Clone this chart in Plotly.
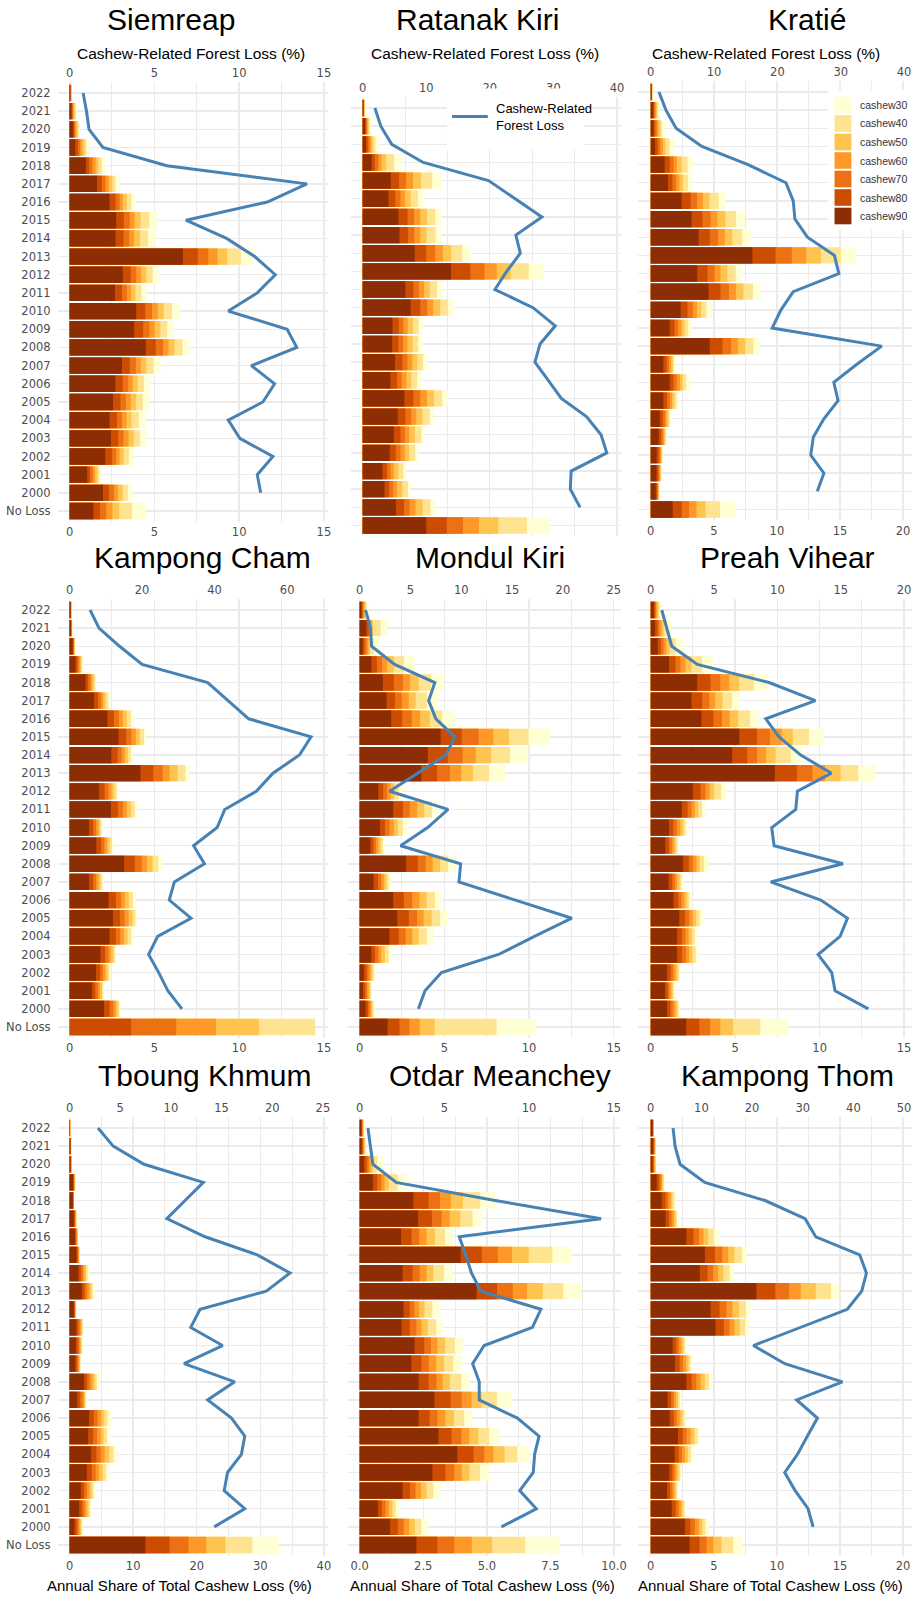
import plotly.graph_objects as go

W, H = 923, 1597

# ---------------- categories (top to bottom) ----------------
YEARS = [str(y) for y in range(2022, 1999, -1)]
CATS = YEARS + ["No Loss"]
SERIES = ["cashew30", "cashew40", "cashew50", "cashew60", "cashew70", "cashew80", "cashew90"]
COLORS = ["#FFFFD4", "#FEE391", "#FEC44F", "#FE9929", "#EC7014", "#CC4C02", "#8C2D04"]
LINE_COLOR = "#4682B4"

# ---------------- Siemreap ----------------
SIEMREAP_C90 = [0.04,0.1,0.2,0.33,0.96,1.62,2.36,2.75,2.71,6.68,3.14,2.68,3.93,3.81,4.49,3.09,2.7,2.56,2.36,2.44,2.11,1.04,1.97,1.41]
SIEMREAP_C80 = [0.06,0.15,0.27,0.5,1.15,1.91,2.71,3.2,3.18,7.56,3.61,3.09,4.47,4.34,5.08,3.55,3.14,3.0,2.79,2.87,2.5,1.21,2.32,1.8]
SIEMREAP_C70 = [0.08,0.2,0.33,0.62,1.35,2.13,2.95,3.55,3.52,8.18,3.93,3.38,4.86,4.71,5.51,3.91,3.46,3.32,3.09,3.18,2.75,1.37,2.62,2.17]
SIEMREAP_C60 = [0.1,0.25,0.4,0.74,1.54,2.32,3.14,3.83,3.81,8.73,4.22,3.63,5.2,5.02,5.84,4.2,3.73,3.61,3.36,3.48,2.95,1.5,2.85,2.52]
SIEMREAP_C50 = [0.11,0.3,0.47,0.88,1.7,2.52,3.38,4.18,4.16,9.3,4.53,3.89,5.55,5.35,6.19,4.53,4.02,3.93,3.65,3.79,3.2,1.64,3.13,2.93]
SIEMREAP_C40 = [0.13,0.37,0.55,1.0,1.9,2.71,3.65,4.71,4.63,10.1,4.9,4.24,6.04,5.76,6.66,4.96,4.39,4.32,4.08,4.16,3.5,1.76,3.44,3.69]
SIEMREAP_C30 = [0.14,0.43,0.62,1.19,2.17,2.95,3.89,5.18,5.06,10.88,5.25,4.53,6.5,6.13,7.07,5.37,4.77,4.73,4.49,4.53,3.79,1.9,3.73,4.47]
SIEMREAP_LINE = [0.8,1.0,1.15,1.97,5.74,14.0,11.66,6.86,9.26,10.92,12.13,11.07,9.36,12.83,13.4,10.72,12.09,11.4,9.36,10.04,11.99,11.07,11.27]

# ---------------- Ratanak Kiri ----------------
RATANAK_C90 = [0.04,0.14,0.2,0.53,1.66,1.52,2.11,2.17,3.07,5.21,2.52,2.83,1.76,1.74,1.91,1.64,2.46,2.07,1.84,1.6,1.17,1.29,1.97,3.75]
RATANAK_C80 = [0.06,0.2,0.3,0.72,2.15,1.93,2.64,2.68,3.75,6.35,2.99,3.4,2.13,2.11,2.34,2.03,2.99,2.52,2.23,1.95,1.43,1.56,2.44,4.96]
RATANAK_C70 = [0.08,0.26,0.4,0.92,2.56,2.23,3.03,3.05,4.28,7.19,3.32,3.81,2.4,2.38,2.64,2.3,3.4,2.87,2.5,2.23,1.64,1.8,2.77,5.92]
RATANAK_C60 = [0.1,0.3,0.5,1.11,2.97,2.5,3.4,3.4,4.73,7.91,3.63,4.16,2.66,2.64,2.93,2.58,3.79,3.16,2.75,2.48,1.84,2.03,3.11,6.86]
RATANAK_C50 = [0.12,0.36,0.6,1.39,3.44,2.83,3.79,3.77,5.21,8.73,3.96,4.57,2.97,2.95,3.22,2.87,4.2,3.52,3.09,2.75,2.11,2.34,3.54,8.0]
RATANAK_C40 = [0.14,0.42,0.75,1.86,4.1,3.26,4.28,4.3,5.88,9.8,4.39,5.04,3.3,3.28,3.57,3.22,4.69,3.95,3.46,3.11,2.4,2.68,4.0,9.69]
RATANAK_C30 = [0.16,0.49,0.94,2.29,4.65,3.57,4.67,4.69,6.35,10.66,4.73,5.41,3.55,3.53,3.81,3.44,5.02,4.16,3.63,3.28,2.56,2.83,4.26,11.04]
RATANAK_LINE = [1.93,2.86,4.58,9.53,19.8,23.96,28.2,24.1,24.8,22.66,20.8,26.8,30.3,27.9,27.1,29.2,31.25,35.2,37.5,38.4,32.8,32.66,34.2]

# ---------------- Kratié ----------------
KRATIE_C90 = [0.06,0.18,0.21,0.34,1.1,1.37,2.45,3.24,3.79,8.05,3.68,4.58,2.37,1.5,4.68,1.0,1.5,1.0,0.71,0.63,0.47,0.45,0.39,1.74]
KRATIE_C80 = [0.08,0.26,0.34,0.55,1.5,1.71,3.16,4.1,4.68,9.89,4.5,5.53,2.92,1.89,5.68,1.26,1.79,1.29,0.95,0.82,0.63,0.58,0.5,2.45]
KRATIE_C70 = [0.1,0.34,0.47,0.74,1.82,2.0,3.66,4.74,5.34,11.18,5.05,6.21,3.32,2.18,6.37,1.45,2.05,1.5,1.13,0.95,0.74,0.66,0.55,3.03]
KRATIE_C60 = [0.11,0.42,0.6,0.97,2.08,2.26,4.13,5.29,5.87,12.32,5.53,6.76,3.66,2.45,6.92,1.61,2.32,1.68,1.26,1.05,0.82,0.74,0.61,3.63]
KRATIE_C50 = [0.12,0.5,0.75,1.18,2.45,2.55,4.66,5.92,6.47,13.5,6.08,7.34,4.0,2.68,7.5,1.74,2.53,1.87,1.39,1.13,0.87,0.79,0.63,4.34]
KRATIE_C40 = [0.14,0.6,0.9,1.5,2.92,2.95,5.39,6.76,7.26,15.08,6.74,8.1,4.42,2.97,8.13,1.84,2.79,2.05,1.5,1.21,0.92,0.84,0.66,5.5]
KRATIE_C30 = [0.16,0.71,1.13,1.84,3.37,3.29,5.92,7.45,7.92,16.24,7.24,8.71,4.82,3.21,8.63,1.92,3.03,2.18,1.58,1.26,0.97,0.87,0.68,6.68]
KRATIE_LINE = [1.3,2.4,4.0,8.07,15.36,21.35,22.5,22.76,24.74,29.0,29.7,22.5,20.57,19.17,36.46,32.55,28.9,29.58,27.34,25.68,25.26,27.34,26.3]

# ---------------- Kampong Cham ----------------
KCHAM_C90 = [0.06,0.08,0.18,0.35,0.94,1.45,2.23,2.89,2.46,4.18,1.74,2.44,1.15,1.58,3.22,1.15,2.3,2.56,2.36,1.82,1.56,1.33,2.03,0]
KCHAM_C80 = [0.08,0.1,0.22,0.45,1.09,1.68,2.62,3.34,2.83,4.94,2.07,2.85,1.39,1.86,3.85,1.39,2.73,2.97,2.73,2.09,1.8,1.52,2.36,3.63]
KCHAM_C70 = [0.09,0.12,0.26,0.55,1.23,1.86,2.91,3.65,3.07,5.49,2.3,3.14,1.56,2.05,4.26,1.56,3.03,3.24,2.99,2.29,1.97,1.68,2.58,6.29]
KCHAM_C60 = [0.1,0.13,0.28,0.63,1.33,1.99,3.14,3.91,3.26,5.9,2.48,3.38,1.7,2.21,4.57,1.7,3.26,3.48,3.2,2.44,2.11,1.8,2.73,8.63]
KCHAM_C50 = [0.11,0.15,0.3,0.68,1.43,2.13,3.38,4.14,3.44,6.37,2.64,3.61,1.8,2.36,4.9,1.82,3.5,3.71,3.42,2.58,2.25,1.91,2.85,11.17]
KCHAM_C40 = [0.12,0.16,0.32,0.74,1.52,2.29,3.61,4.39,3.61,6.84,2.79,3.85,1.88,2.5,5.23,1.93,3.73,3.89,3.63,2.68,2.36,1.99,2.95,14.49]
KCHAM_C30 = [0.14,0.18,0.34,0.8,1.58,2.4,3.79,4.49,3.71,7.11,2.85,3.98,1.91,2.58,5.43,2.03,3.91,4.0,3.79,2.73,2.44,2.03,3.01,14.49]
KCHAM_LINE = [5.66,8.13,13.8,20.0,38.1,43.7,49.4,66.6,63.4,56.1,51.5,42.8,40.7,34.2,37.2,28.9,27.5,33.5,24.3,21.8,24.6,27.1,31.0]

# ---------------- Mondul Kiri ----------------
MONDUL_C90 = [0.1,0.39,0.18,0.69,1.37,1.59,1.86,4.78,4.02,3.63,1.1,1.98,1.2,0.63,2.75,0.82,1.98,2.22,1.76,0.69,0.25,0.2,0.35,1.65]
MONDUL_C80 = [0.16,0.53,0.29,1.02,2.02,2.08,2.51,6.02,5.2,4.57,1.39,2.55,1.49,0.8,3.43,1.08,2.61,2.9,2.31,0.9,0.41,0.33,0.49,2.35]
MONDUL_C70 = [0.22,0.63,0.41,1.33,2.55,2.49,3.08,7.02,6.08,5.33,1.63,2.96,1.76,0.96,3.9,1.27,3.1,3.39,2.71,1.1,0.53,0.43,0.59,2.94]
MONDUL_C60 = [0.27,0.71,0.51,1.63,2.98,2.9,3.57,7.9,6.86,6.0,1.84,3.39,2.02,1.1,4.31,1.43,3.53,3.78,3.1,1.27,0.65,0.53,0.67,3.55]
MONDUL_C50 = [0.35,0.78,0.61,2.02,3.49,3.31,4.14,8.82,7.76,6.69,2.04,3.82,2.25,1.24,4.75,1.57,3.96,4.25,3.49,1.49,0.75,0.61,0.75,4.43]
MONDUL_C40 = [0.41,1.24,0.84,2.61,4.22,3.98,4.86,9.98,8.88,7.65,2.31,4.27,2.55,1.37,5.22,1.71,4.45,4.75,3.96,1.71,0.84,0.67,0.82,8.08]
MONDUL_C30 = [0.53,1.61,1.2,3.24,4.92,4.57,5.59,11.24,9.96,8.59,2.55,4.65,2.8,1.49,5.63,1.84,4.86,5.16,4.35,1.9,0.94,0.73,0.88,10.41]
MONDUL_LINE = [0.58,1.07,1.17,3.44,7.4,6.79,7.5,9.38,8.47,5.71,2.95,8.7,6.69,4.03,9.94,9.77,15.3,20.88,17.2,13.67,8.05,6.43,5.78]

# ---------------- Preah Vihear ----------------
PREAH_C90 = [0.18,0.25,0.41,1.08,2.75,2.41,3.0,5.24,4.82,7.35,2.49,1.84,1.08,0.86,1.92,1.06,1.35,1.69,1.55,1.55,0.96,0.84,0.96,2.1]
PREAH_C80 = [0.25,0.39,0.59,1.47,3.53,3.04,3.71,6.29,5.71,8.65,2.94,2.18,1.33,1.08,2.25,1.27,1.63,2.02,1.84,1.84,1.18,1.0,1.16,2.88]
PREAH_C70 = [0.31,0.51,0.76,1.76,4.12,3.47,4.22,7.06,6.29,9.57,3.24,2.41,1.55,1.24,2.49,1.43,1.82,2.27,2.06,2.08,1.33,1.1,1.31,3.51]
PREAH_C60 = [0.37,0.63,0.92,2.06,4.65,3.82,4.67,7.75,6.82,10.33,3.49,2.61,1.75,1.37,2.71,1.57,2.0,2.49,2.25,2.27,1.47,1.2,1.45,4.12]
PREAH_C50 = [0.45,0.76,1.12,2.41,5.24,4.25,5.18,8.41,7.39,11.24,3.76,2.82,1.92,1.49,2.9,1.71,2.16,2.69,2.43,2.47,1.59,1.3,1.57,4.88]
PREAH_C40 = [0.53,0.94,1.47,3.04,6.12,4.82,5.88,9.37,8.29,12.29,4.16,3.04,2.06,1.59,3.16,1.82,2.29,2.9,2.61,2.67,1.69,1.37,1.65,6.49]
PREAH_C30 = [0.69,1.2,1.92,3.67,6.9,5.29,6.47,10.25,8.98,13.29,4.47,3.27,2.22,1.65,3.43,1.92,2.41,3.08,2.76,2.82,1.76,1.43,1.71,8.14]
PREAH_LINE = [0.87,1.26,1.66,3.68,9.34,13.0,9.08,10.13,11.84,14.26,11.58,11.45,9.55,9.74,15.18,9.47,13.42,15.53,14.95,13.21,14.29,14.55,17.18]

# ---------------- Tboung Khmum ----------------
TBOUNG_C90 = [0.05,0.12,0.15,0.55,0.52,0.68,0.83,1.09,1.41,1.93,0.68,1.04,0.99,0.89,2.29,1.2,3.07,2.92,3.39,2.71,1.77,1.51,0.78,11.93]
TBOUNG_C80 = [0.08,0.16,0.2,0.65,0.58,0.8,0.98,1.25,1.77,2.34,0.78,1.35,1.3,1.15,2.76,1.67,3.8,3.7,4.22,3.49,2.29,1.98,1.15,15.73]
TBOUNG_C70 = [0.1,0.2,0.25,0.73,0.62,0.9,1.1,1.37,2.08,2.71,0.86,1.6,1.52,1.35,3.18,2.03,4.43,4.32,4.9,4.11,2.71,2.34,1.41,18.7]
TBOUNG_C60 = [0.12,0.23,0.3,0.8,0.66,0.98,1.2,1.46,2.34,3.07,0.93,1.8,1.7,1.5,3.59,2.29,5.0,4.9,5.52,4.64,3.13,2.66,1.61,21.51]
TBOUNG_C50 = [0.14,0.26,0.34,0.86,0.69,1.05,1.27,1.53,2.6,3.39,0.99,1.96,1.85,1.63,3.96,2.45,5.47,5.36,6.25,5.21,3.49,2.97,1.82,24.53]
TBOUNG_C40 = [0.17,0.29,0.38,0.9,0.71,1.1,1.32,1.58,2.86,3.65,1.04,2.08,1.97,1.73,4.32,2.55,5.99,5.89,6.93,5.78,3.8,3.23,1.98,28.75]
TBOUNG_C30 = [0.2,0.31,0.42,0.94,0.73,1.15,1.35,1.61,3.13,3.96,1.09,2.19,2.08,1.82,4.64,2.66,6.56,6.35,7.6,6.35,4.06,3.49,2.08,32.92]
TBOUNG_LINE = [2.81,4.31,7.35,13.2,11.4,9.6,13.37,18.53,21.76,19.41,12.88,11.96,15.1,11.3,16.3,13.63,15.98,17.29,16.96,15.59,15.26,17.29,14.28]

# ---------------- Otdar Meanchey ----------------
OTDAR_C90 = [0.07,0.08,0.17,0.52,2.11,2.3,1.63,3.97,1.69,4.6,1.73,1.65,2.16,2.03,2.32,2.94,2.32,3.1,3.84,2.86,1.69,0.72,1.2,2.23]
OTDAR_C80 = [0.09,0.11,0.27,0.69,2.71,2.84,2.04,4.8,2.08,5.4,1.97,1.97,2.54,2.43,2.71,3.58,2.75,3.61,4.48,3.37,1.98,0.87,1.5,3.05]
OTDAR_C70 = [0.11,0.14,0.35,0.85,3.16,3.22,2.34,5.43,2.36,6.02,2.16,2.23,2.8,2.72,3.02,4.01,3.06,4.0,4.9,3.72,2.2,1.02,1.73,3.72]
OTDAR_C60 = [0.13,0.17,0.43,0.98,3.58,3.54,2.63,5.99,2.63,6.58,2.34,2.43,3.06,3.01,3.26,4.4,3.37,4.31,5.26,4.01,2.41,1.16,1.95,4.41]
OTDAR_C50 = [0.15,0.2,0.52,1.15,4.06,3.96,2.96,6.65,2.9,7.2,2.55,2.68,3.36,3.32,3.55,4.79,3.71,4.67,5.7,4.32,2.63,1.29,2.17,5.21]
OTDAR_C40 = [0.17,0.23,0.69,1.5,4.74,4.44,3.36,7.58,3.31,8.01,2.86,3.01,3.75,3.68,4.0,5.4,4.11,5.09,6.2,4.73,2.9,1.42,2.43,6.51]
OTDAR_C30 = [0.2,0.26,0.94,1.89,5.33,4.8,3.65,8.33,3.65,8.72,3.14,3.27,4.1,4.02,4.35,5.95,4.44,5.47,6.65,5.08,3.18,1.55,2.7,7.88]
OTDAR_LINE = [0.49,0.65,0.78,2.16,8.0,14.25,5.88,6.27,6.6,7.16,10.7,10.2,7.35,6.67,7.06,7.06,9.31,10.59,10.33,10.25,9.45,10.43,8.37]

# ---------------- Kampong Thom ----------------
KTHOM_C90 = [0.16,0.18,0.13,0.47,0.87,1.18,2.82,4.29,3.89,8.37,4.74,5.13,1.74,1.92,2.82,1.34,1.5,2.16,1.89,1.47,1.29,1.66,2.71,3.08]
KTHOM_C80 = [0.18,0.24,0.2,0.66,1.18,1.45,3.39,5.08,4.5,9.87,5.45,5.79,2.03,2.29,3.24,1.61,1.82,2.53,2.21,1.71,1.53,1.97,3.13,3.87]
KTHOM_C70 = [0.2,0.29,0.26,0.79,1.39,1.66,3.82,5.66,4.95,10.97,6.0,6.24,2.24,2.55,3.61,1.82,2.05,2.84,2.47,1.89,1.71,2.21,3.5,4.42]
KTHOM_C60 = [0.21,0.33,0.32,0.89,1.58,1.84,4.18,6.13,5.34,11.89,6.47,6.63,2.42,2.79,3.95,2.0,2.29,3.16,2.71,2.05,1.87,2.39,3.82,4.97]
KTHOM_C50 = [0.22,0.37,0.37,0.97,1.71,1.97,4.55,6.63,5.76,13.08,7.0,7.05,2.58,3.0,4.29,2.16,2.5,3.45,2.95,2.21,2.0,2.55,4.08,5.61]
KTHOM_C40 = [0.24,0.41,0.42,1.05,1.87,2.08,5.03,7.24,6.26,14.29,7.55,7.5,2.71,3.16,4.63,2.29,2.68,3.71,3.18,2.34,2.11,2.68,4.34,6.53]
KTHOM_C30 = [0.26,0.45,0.47,1.13,2.03,2.18,5.39,7.63,6.61,14.92,7.89,7.79,2.82,3.29,4.87,2.39,2.82,3.89,3.39,2.45,2.18,2.79,4.61,7.29]
KTHOM_LINE = [4.41,4.8,5.79,10.66,22.57,30.46,32.57,41.25,42.57,41.64,38.8,29.5,20.26,26.45,37.83,28.8,32.9,30.9,28.95,26.45,28.5,31.05,32.04]

# ---------------- tick labels ----------------
TICKS_0_15 = [0, 5, 10, 15]
TICKS_0_20 = [0, 5, 10, 15, 20]
TICKS_0_25 = [0, 5, 10, 15, 20, 25]
TICKS_0_40_BY10 = [0, 10, 20, 30, 40]
TICKS_0_50_BY10 = [0, 10, 20, 30, 40, 50]
TICKS_0_60_BY20 = [0, 20, 40, 60]
TICKS_OTDAR = [0, 2.5, 5, 7.5, 10]
TICKS_OTDAR_TEXT = ["0.0", "2.5", "5.0", "7.5", "10.0"]

TOP_TITLE = "Cashew-Related Forest Loss (%)"
BOTTOM_TITLE = "Annual Share of Total Cashew Loss (%)"
LINE_LEGEND = "Cashew-Related<br>Forest Loss"

# ---------------- panel layout (pixel geometry) ----------------
PANELS = [
    dict(title="Siemreap", bars=[SIEMREAP_C30, SIEMREAP_C40, SIEMREAP_C50, SIEMREAP_C60, SIEMREAP_C70, SIEMREAP_C80, SIEMREAP_C90], line=SIEMREAP_LINE,
         L=58, R=330, z=70, sb=17.07, st=17.07, yt=93, yb=511, bt=TICKS_0_15, bmin=2.5, tt=TICKS_0_15, ylab=True, blab=True),
    dict(title="Ratanak Kiri", bars=[RATANAK_C30, RATANAK_C40, RATANAK_C50, RATANAK_C60, RATANAK_C70, RATANAK_C80, RATANAK_C90], line=RATANAK_LINE,
         L=353, R=625, z=365, sb=17.07, st=6.4, yt=108, yb=525.5, bt=TICKS_0_15, bmin=2.5, tt=TICKS_0_40_BY10, ylab=False, blab=False),
    dict(title="Kratié", bars=[KRATIE_C30, KRATIE_C40, KRATIE_C50, KRATIE_C60, KRATIE_C70, KRATIE_C80, KRATIE_C90], line=KRATIE_LINE,
         L=642, R=918, z=655, sb=12.7, st=6.375, yt=92, yb=509.5, bt=TICKS_0_20, bmin=2.5, tt=TICKS_0_40_BY10, ylab=False, blab=True),
    dict(title="Kampong Cham", bars=[KCHAM_C30, KCHAM_C40, KCHAM_C50, KCHAM_C60, KCHAM_C70, KCHAM_C80, KCHAM_C90], line=KCHAM_LINE,
         L=58, R=330, z=70, sb=17.07, st=3.65, yt=610, yb=1027, bt=TICKS_0_15, bmin=2.5, tt=TICKS_0_60_BY20, ylab=True, blab=True),
    dict(title="Mondul Kiri", bars=[MONDUL_C30, MONDUL_C40, MONDUL_C50, MONDUL_C60, MONDUL_C70, MONDUL_C80, MONDUL_C90], line=MONDUL_LINE,
         L=350, R=625, z=362, sb=17.05, st=10.23, yt=610, yb=1027, bt=TICKS_0_15, bmin=2.5, tt=TICKS_0_25, ylab=False, blab=True),
    dict(title="Preah Vihear", bars=[PREAH_C30, PREAH_C40, PREAH_C50, PREAH_C60, PREAH_C70, PREAH_C80, PREAH_C90], line=PREAH_LINE,
         L=642, R=918, z=655, sb=17.0, st=12.75, yt=610, yb=1027, bt=TICKS_0_15, bmin=2.5, tt=TICKS_0_20, ylab=False, blab=True),
    dict(title="Tboung Khmum", bars=[TBOUNG_C30, TBOUNG_C40, TBOUNG_C50, TBOUNG_C60, TBOUNG_C70, TBOUNG_C80, TBOUNG_C90], line=TBOUNG_LINE,
         L=58, R=330, z=70, sb=6.4, st=10.2, yt=1128, yb=1545, bt=TICKS_0_40_BY10, bmin=5, tt=TICKS_0_25, ylab=True, blab=True),
    dict(title="Otdar Meanchey", bars=[OTDAR_C30, OTDAR_C40, OTDAR_C50, OTDAR_C60, OTDAR_C70, OTDAR_C80, OTDAR_C90], line=OTDAR_LINE,
         L=350, R=625, z=362, sb=25.6, st=17.05, yt=1128, yb=1545, bt=TICKS_OTDAR, btext=TICKS_OTDAR_TEXT, bmin=1.25, tt=TICKS_0_15, ylab=False, blab=True),
    dict(title="Kampong Thom", bars=[KTHOM_C30, KTHOM_C40, KTHOM_C50, KTHOM_C60, KTHOM_C70, KTHOM_C80, KTHOM_C90], line=KTHOM_LINE,
         L=642, R=918, z=655, sb=12.7, st=5.1, yt=1128, yb=1545, bt=TICKS_0_20, bmin=2.5, tt=TICKS_0_50_BY10, ylab=False, blab=True),
]

TITLE_POS = [(172, 19), (481, 19), (812, 19), (204, 557), (493, 557), (793, 557), (206, 1075), (503, 1075), (793, 1075)]
TOP_TITLE_X = [192, 488, 771]
BOTTOM_TITLE_X = [181, 486, 776]

GRID = "#EBEBEB"
TICKFONT = dict(family="DejaVu Sans", size=11.5, color="#4D4D4D")
TITLEFONT = "Liberation Sans"


def px(xp):
    return xp / W


def py(yp):
    return 1 - yp / H


def ref(prefix, n):
    return prefix if n == 1 else f"{prefix}{n}"


fig = go.Figure()
layout = {}
annotations = []
shapes = []

for k, p in enumerate(PANELS):
    nb, nt, ny = 2 * k + 1, 2 * k + 2, k + 1
    xb, xt, yy = ref("x", nb), ref("x", nt), ref("y", ny)

    for name, color, vals in zip(SERIES, COLORS, p["bars"]):
        fig.add_trace(go.Bar(x=vals, y=CATS, orientation="h", name=name,
                             marker=dict(color=color, line=dict(width=0)), width=0.9,
                             xaxis=xb, yaxis=yy, showlegend=False))
    fig.add_trace(go.Scatter(x=p["line"], y=YEARS, mode="lines", name="Cashew-Related Forest Loss",
                             line=dict(color=LINE_COLOR, width=3), xaxis=xt, yaxis=yy, showlegend=False))

    sp = (p["yb"] - p["yt"]) / 23.0
    dom_top = p["yt"] - 0.6 * sp
    dom_bot = p["yb"] + 0.6 * sp
    xr_b = [(p["L"] - p["z"]) / p["sb"], (p["R"] - p["z"]) / p["sb"]]
    xr_t = [(p["L"] - p["z"]) / p["st"], (p["R"] - p["z"]) / p["st"]]
    minor_vals = [v + p["bmin"] for v in p["bt"][:-1]]

    layout[ref("xaxis", nb)] = dict(
        domain=[px(p["L"]), px(p["R"])], range=xr_b, anchor=yy, side="bottom",
        tickmode="array", tickvals=p["bt"], ticktext=p.get("btext", [str(v) for v in p["bt"]]),
        showticklabels=p["blab"], ticks="", tickfont=TICKFONT, ticklabelstandoff=2,
        showgrid=True, gridcolor=GRID, gridwidth=1.4, zeroline=False, showline=False,
        minor=dict(tickvals=minor_vals, showgrid=True, gridcolor=GRID, gridwidth=1.0, ticks=""),
        fixedrange=True)
    layout[ref("xaxis", nt)] = dict(
        overlaying=xb, range=xr_t, anchor=yy, side="top",
        tickmode="array", tickvals=p["tt"], ticktext=[str(v) for v in p["tt"]],
        ticks="", tickfont=TICKFONT, ticklabelstandoff=2,
        showgrid=False, zeroline=False, showline=False, fixedrange=True)
    layout[ref("yaxis", ny)] = dict(
        domain=[py(dom_bot), py(dom_top)], anchor=xb, type="category",
        categoryorder="array", categoryarray=list(reversed(CATS)), range=[-0.6, 23.6],
        tickmode="array", tickvals=CATS, ticktext=CATS, showticklabels=p["ylab"],
        ticks="", tickfont=TICKFONT, ticklabelstandoff=6,
        showgrid=True, gridcolor=GRID, gridwidth=1.4, zeroline=False, showline=False, fixedrange=True)

    tx, ty = TITLE_POS[k]
    annotations.append(dict(text=p["title"], x=px(tx), y=py(ty), xref="paper", yref="paper",
                            xanchor="center", yanchor="middle", showarrow=False,
                            font=dict(family=TITLEFONT, size=30, color="#000000")))

for cx in TOP_TITLE_X:
    annotations.append(dict(text=TOP_TITLE, x=px(cx), y=py(53), xref="paper", yref="paper",
                            xanchor="center", yanchor="middle", showarrow=False,
                            font=dict(family=TITLEFONT, size=15.5, color="#000000")))
for cx in BOTTOM_TITLE_X:
    annotations.append(dict(text=BOTTOM_TITLE, x=px(cx), y=py(1585), xref="paper", yref="paper",
                            xanchor="center", yanchor="middle", showarrow=False,
                            font=dict(family=TITLEFONT, size=15, color="#000000")))

# ---- line legend (in Ratanak Kiri panel) ----
shapes.append(dict(type="rect", xref="paper", yref="paper", x0=px(450), x1=px(588), y0=py(150), y1=py(88.5),
                   fillcolor="white", line=dict(width=0), layer="above"))
shapes.append(dict(type="line", xref="paper", yref="paper", x0=px(455), x1=px(491), y0=py(116.5), y1=py(116.5),
                   line=dict(color=LINE_COLOR, width=3), layer="above"))
annotations.append(dict(text=LINE_LEGEND, x=px(497), y=py(116.5), xref="paper", yref="paper",
                        xanchor="left", yanchor="middle", align="left", showarrow=False,
                        font=dict(family=TITLEFONT, size=13, color="#000000")))

# ---- bar legend (in Kratié panel) ----
shapes.append(dict(type="rect", xref="paper", yref="paper", x0=px(833), x1=px(923), y0=py(230), y1=py(90),
                   fillcolor="white", line=dict(width=0), layer="above"))
for i, (name, color) in enumerate(zip(SERIES, COLORS)):
    cy = 105 + i * 18.5
    shapes.append(dict(type="rect", xref="paper", yref="paper", x0=px(840), x1=px(857),
                       y0=py(cy + 8.3), y1=py(cy - 8.3), fillcolor=color, line=dict(width=0), layer="above"))
    annotations.append(dict(text=name, x=px(864), y=py(cy), xref="paper", yref="paper",
                            xanchor="left", yanchor="middle", showarrow=False,
                            font=dict(family=TITLEFONT, size=10.5, color="#333333")))

fig.update_layout(
    width=W, height=H, autosize=False,
    margin=dict(l=0, r=0, t=0, b=0),
    paper_bgcolor="white", plot_bgcolor="white",
    barmode="overlay", bargap=0.1,
    showlegend=False,
    annotations=annotations, shapes=shapes,
    font=dict(family="DejaVu Sans"),
    **layout,
)

fig.write_html("out.html", config={"displayModeBar": False, "staticPlot": True},
               post_script="document.body.style.margin='0px';")
